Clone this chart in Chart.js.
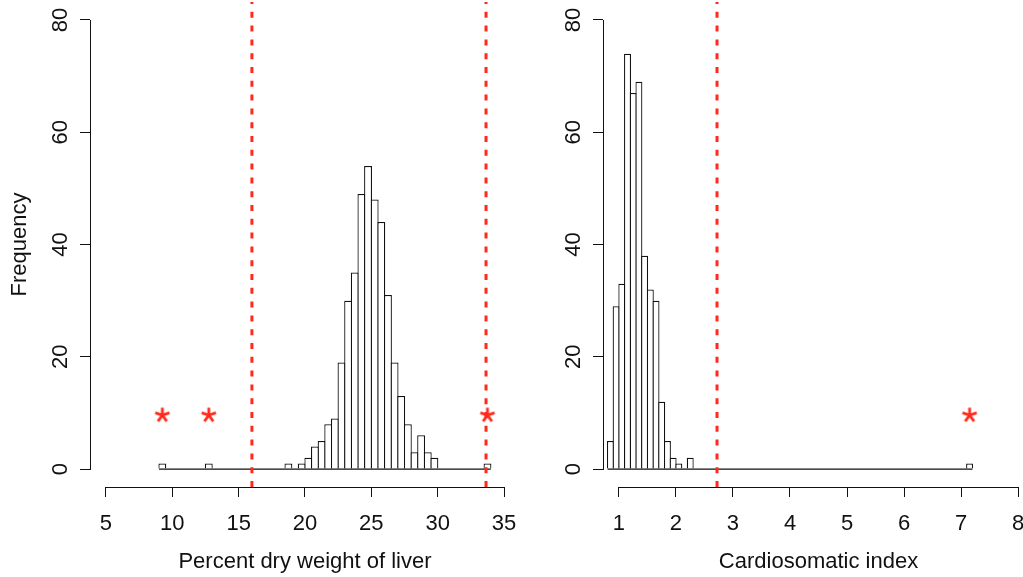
<!DOCTYPE html>
<html><head><meta charset="utf-8">
<script src="https://cdn.jsdelivr.net/npm/chart.js@4.4.1/dist/chart.umd.min.js"></script>
<style>
html,body{margin:0;padding:0;background:#fff;overflow:hidden;width:1023px;height:577px;position:relative}
canvas{position:absolute;top:0}
</style></head>
<body>
<canvas id="leftChart" width="540" height="577" style="left:0px"></canvas>
<canvas id="rightChart" width="520" height="577" style="left:540px"></canvas>
<script>
// ---------- data ----------
const liverBinStart = [9.0, 12.5, 18.5, 19.5, 20.0, 20.5, 21.0, 21.5, 22.0, 22.5, 23.0, 23.5, 24.0, 24.5, 25.0, 25.5, 26.0, 26.5, 27.0, 27.5, 28.0, 28.5, 29.0, 29.5, 33.5];
const liverCounts   = [1,   1,    1,    1,    2,    4,    5,    8,    9,    19,   30,   35,   49,   54,   48,   44,   31,   19,   13,   8,    3,    6,    3,    2,    1];
const liverBinWidth = 0.5;
const liverRange = [9.0, 34.0];
const liverCutoffs = [16.0, 33.64];
const liverFlagX = [9.25, 12.75, 33.75];
const liverTicks = [5, 10, 15, 20, 25, 30, 35];
const liverLabel = 'Percent dry weight of liver';

const csiBinStart = [0.8, 0.9, 1.0, 1.1, 1.2, 1.3, 1.4, 1.5, 1.6, 1.7, 1.8, 1.9, 2.0, 2.2, 7.1];
const csiCounts   = [5,   29,  33,  74,  67,  69,  38,  32,  30,  12,  5,   2,   1,   2,   1];
const csiBinWidth = 0.1;
const csiRange = [0.8, 7.2];
const csiCutoffs = [2.72];
const csiFlagX = [7.15];
const csiTicks = [1, 2, 3, 4, 5, 6, 7, 8];
const csiLabel = 'Cardiosomatic index';

const freqTicks = [0, 20, 40, 60, 80];
const flagY = 9.6;
const yLabel = 'Frequency';

// ---------- styling ----------
const RED = '#ff2a1c';
const INK = '#111111';
const FONT = 'Liberation Sans, Arial, Helvetica, sans-serif';

function makeStar() {
  const c = document.createElement('canvas');
  c.width = 20; c.height = 20;
  const g = c.getContext('2d');
  g.strokeStyle = RED; g.lineWidth = 2.8; g.lineCap = 'butt';
  g.beginPath();
  for (let k = 0; k < 5; k++) {
    const a = -Math.PI / 2 + k * 2 * Math.PI / 5;
    g.moveTo(10, 10);
    g.lineTo(10 + 7.5 * Math.cos(a), 10 + 7.5 * Math.sin(a));
  }
  g.stroke();
  return c;
}
const STAR = makeStar();

const axisLines = {
  id: 'axisLines',
  afterDraw(chart) {
    const {ctx, chartArea, scales} = chart;
    const xs = scales.x, ys = scales.y;
    const xt = xs.ticks, yt = ys.ticks;
    ctx.save();
    ctx.strokeStyle = INK; ctx.lineWidth = 1;
    ctx.beginPath();
    const by = Math.round(chartArea.bottom) + 0.5;
    ctx.moveTo(Math.round(xs.getPixelForValue(xt[0].value)), by);
    ctx.lineTo(Math.round(xs.getPixelForValue(xt[xt.length - 1].value)) + 1, by);
    const lx = Math.round(chartArea.left) + 0.5;
    ctx.moveTo(lx, Math.round(ys.getPixelForValue(yt[0].value)) + 1);
    ctx.lineTo(lx, Math.round(ys.getPixelForValue(yt[yt.length - 1].value)));
    ctx.stroke();
    ctx.restore();
  }
};

function build(canvasId, cfg) {
  const span = cfg.ticks[cfg.ticks.length - 1] - cfg.ticks[0];
  const xMin = cfg.ticks[0] - 0.04 * span, xMax = cfg.ticks[cfg.ticks.length - 1] + 0.04 * span;
  const ySpan = freqTicks[freqTicks.length - 1] - freqTicks[0];
  const yMin = freqTicks[0] - 0.04 * ySpan, yMax = freqTicks[freqTicks.length - 1] + 0.04 * ySpan;
  const pxPerUnit = (cfg.plotRight - cfg.yAxisWidth) / (xMax - xMin);
  const binPx = cfg.binWidth * pxPerUnit;

  const datasets = [];
  datasets.push({
    type: 'line', data: cfg.flagX.map(x => ({x, y: flagY})),
    showLine: false, pointStyle: STAR, pointRadius: 8, clip: false
  });
  cfg.cutoffs.forEach(c => datasets.push({
    type: 'line', data: [{x: c, y: yMin}, {x: c, y: yMax}],
    borderColor: RED, borderWidth: 3, borderDash: [6, 7.8], pointRadius: 0, fill: false
  }));
  datasets.push({
    type: 'line', data: [{x: cfg.range[0], y: 0}, {x: cfg.range[1], y: 0}],
    borderColor: INK, borderWidth: 1.2, pointRadius: 0, fill: false
  });
  datasets.push({
    type: 'bar',
    data: cfg.binStart.map((s, i) => ({x: s + cfg.binWidth / 2, y: cfg.counts[i]})),
    backgroundColor: '#ffffff', borderColor: INK, borderWidth: 1.25,
    borderSkipped: 'start', inflateAmount: 0,
    barPercentage: (binPx + 1.25) / binPx, categoryPercentage: 1
  });

  const zeroPad = s => { s.paddingTop = 0; s.paddingBottom = 0; s.paddingLeft = 0; s.paddingRight = 0; };

  const scales = {
    x: {
      type: 'linear', min: xMin, max: xMax, offset: false,
      afterBuildTicks: s => { s.ticks = cfg.ticks.map(v => ({value: v})); },
      afterFit: s => { s.height = 90; zeroPad(s); },
      grid: {display: true, drawOnChartArea: false, drawTicks: true, tickLength: 10, color: INK, lineWidth: 1, offset: false},
      border: {display: false},
      ticks: {color: INK, font: {family: FONT, size: 22, lineHeight: 1}, padding: 16, maxRotation: 0, minRotation: 0, autoSkip: false},
      title: {display: true, text: cfg.label, color: INK, font: {family: FONT, size: 22, lineHeight: 1}, padding: {top: 0, bottom: 4}}
    },
    y: {
      type: 'linear', min: yMin, max: yMax,
      afterBuildTicks: s => { s.ticks = freqTicks.map(v => ({value: v})); },
      afterFit: s => { s.width = cfg.yAxisWidth; zeroPad(s); },
      grid: {display: true, drawOnChartArea: false, drawTicks: true, tickLength: 10, color: INK, lineWidth: 1},
      border: {display: false},
      ticks: {color: INK, font: {family: FONT, size: 22, lineHeight: 1}, padding: 7, minRotation: 90, maxRotation: 90, crossAlign: 'center', autoSkip: false},
      title: {display: cfg.showYTitle, text: yLabel, color: INK, font: {family: FONT, size: 22, lineHeight: 1}, padding: {top: 9, bottom: 0}}
    }
  };

  return new Chart(document.getElementById(canvasId), {
    type: 'bar',
    data: {datasets},
    options: {
      responsive: false, animation: false, devicePixelRatio: 1,
      layout: {autoPadding: false, padding: {left: 0, top: 2, right: cfg.padRight, bottom: 0}},
      plugins: {legend: {display: false}, tooltip: {enabled: false}},
      scales
    },
    plugins: [axisLines]
  });
}

build('leftChart', {
  binStart: liverBinStart, counts: liverCounts, binWidth: liverBinWidth, range: liverRange,
  cutoffs: liverCutoffs, flagX: liverFlagX, ticks: liverTicks, label: liverLabel,
  yAxisWidth: 90, plotRight: 520, padRight: 20, showYTitle: true
});
build('rightChart', {
  binStart: csiBinStart, counts: csiCounts, binWidth: csiBinWidth, range: csiRange,
  cutoffs: csiCutoffs, flagX: csiFlagX, ticks: csiTicks, label: csiLabel,
  yAxisWidth: 63, plotRight: 494, padRight: 26, showYTitle: false
});
</script>
</body></html>
